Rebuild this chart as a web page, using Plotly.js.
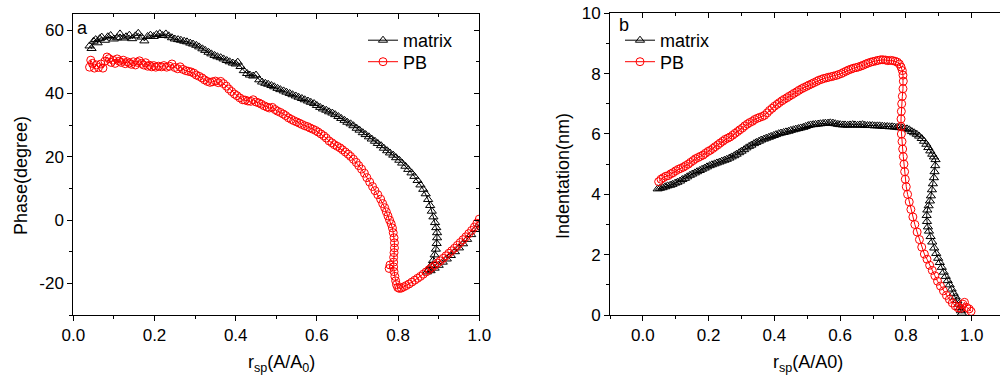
<!DOCTYPE html>
<html>
<head>
<meta charset="utf-8">
<script src="https://cdn.plot.ly/plotly-3.0.1.min.js"></script>
<style>
html,body{margin:0;padding:0;overflow:hidden;background:#fff;width:1000px;height:378px;}
#chart{width:1010px;height:378px;}
</style>
</head>
<body>
<div id="chart"></div>
<script>
// ---------- Panel a: Phase vs r_sp ----------
const phaseMatrixX = [0.040,0.045,0.050,0.055,0.060,0.065,0.070,0.078,0.085,0.092,0.100,0.108,0.115,0.123,0.130,0.138,0.145,0.153,0.160,0.168,0.175,0.183,0.190,0.198,0.205,0.213,0.220,0.228,0.235,0.243,0.250,0.258,0.265,0.273,0.280,0.288,0.295,0.303,0.310,0.318,0.325,0.333,0.340,0.348,0.355,0.363,0.370,0.378,0.385,0.393,0.400,0.405,0.412,0.420,0.428,0.435,0.443,0.450,0.458,0.465,0.473,0.480,0.488,0.495,0.503,0.510,0.518,0.525,0.533,0.540,0.548,0.555,0.563,0.570,0.578,0.585,0.593,0.600,0.608,0.615,0.623,0.630,0.638,0.645,0.653,0.660,0.668,0.675,0.683,0.690,0.698,0.705,0.713,0.720,0.728,0.735,0.743,0.750,0.758,0.765,0.773,0.780,0.788,0.795,0.803,0.810,0.818,0.825,0.833,0.840,0.848,0.855,0.862,0.868,0.874,0.879,0.883,0.887,0.891,0.894,0.896,0.896,0.895,0.893,0.890,0.886,0.881,0.876,0.871,0.880,0.890,0.900,0.910,0.920,0.930,0.940,0.950,0.960,0.970,0.980,0.990,1.000];
const phaseMatrixY = [55.0,54.2,56.5,57.0,56.0,57.3,57.8,56.8,57.9,58.3,57.2,57.6,58.8,57.5,57.9,58.4,57.3,58.2,59.0,57.8,56.6,58.0,58.4,58.0,58.6,58.9,58.3,58.8,58.2,57.6,57.2,57.0,56.8,56.5,56.3,55.9,55.6,55.2,54.7,54.1,53.6,53.0,52.5,52.0,51.6,51.3,50.9,50.4,50.0,49.6,49.3,49.9,48.5,47.2,46.3,45.8,45.5,45.8,44.3,43.6,43.2,42.9,42.5,42.1,41.6,41.2,40.8,40.4,40.0,39.6,39.2,38.8,38.4,38.0,37.6,37.2,36.8,36.2,35.6,35.1,34.7,34.2,33.8,33.3,32.7,32.1,31.5,30.9,30.4,29.8,29.0,28.4,27.6,27.0,26.3,25.6,24.9,24.2,23.5,22.7,21.9,21.2,20.5,19.7,18.9,18.0,17.0,16.0,14.9,13.8,12.5,11.1,9.7,8.3,6.5,4.6,2.8,1.0,-0.8,-2.4,-4.0,-5.6,-7.4,-9.2,-11.0,-12.8,-14.4,-15.6,-16.4,-16.0,-15.2,-14.3,-13.3,-12.3,-11.2,-10.0,-8.8,-7.5,-6.1,-4.6,-3.0,-1.3];

const phasePBX = [0.040,0.043,0.047,0.052,0.057,0.062,0.068,0.073,0.078,0.083,0.088,0.093,0.098,0.103,0.108,0.113,0.118,0.123,0.128,0.133,0.138,0.143,0.148,0.153,0.158,0.163,0.168,0.173,0.178,0.183,0.188,0.193,0.198,0.203,0.210,0.217,0.223,0.230,0.237,0.243,0.250,0.257,0.263,0.270,0.277,0.283,0.290,0.297,0.303,0.310,0.317,0.323,0.330,0.337,0.343,0.350,0.357,0.363,0.370,0.377,0.383,0.390,0.397,0.403,0.410,0.417,0.423,0.430,0.437,0.443,0.450,0.457,0.463,0.470,0.477,0.483,0.490,0.497,0.503,0.510,0.517,0.523,0.530,0.537,0.543,0.550,0.557,0.563,0.570,0.577,0.583,0.590,0.597,0.603,0.610,0.617,0.623,0.630,0.637,0.643,0.650,0.657,0.663,0.670,0.677,0.683,0.690,0.697,0.703,0.710,0.717,0.723,0.730,0.737,0.743,0.750,0.757,0.762,0.767,0.771,0.775,0.779,0.783,0.786,0.788,0.790,0.791,0.791,0.790,0.789,0.789,0.780,0.778,0.789,0.790,0.792,0.794,0.796,0.799,0.803,0.808,0.814,0.820,0.827,0.834,0.841,0.848,0.855,0.862,0.869,0.876,0.883,0.890,0.897,0.904,0.911,0.918,0.925,0.932,0.939,0.946,0.953,0.960,0.967,0.974,0.981,0.988,0.994,1.000];
const phasePBY = [48.3,50.5,49.5,48.0,49.0,48.2,49.3,48.0,50.2,51.5,51.0,49.8,50.5,49.5,50.9,50.2,49.8,50.5,49.4,50.0,49.6,49.2,50.0,49.0,49.8,50.3,49.5,49.0,49.7,48.6,48.9,48.4,48.8,48.3,48.6,48.4,48.8,48.3,48.6,49.3,48.2,47.8,48.4,47.6,47.2,47.0,46.8,46.4,45.8,45.4,44.9,44.3,43.8,43.5,43.7,43.9,43.4,43.8,43.1,42.3,41.4,40.6,39.8,39.3,38.6,38.0,37.9,37.6,37.5,38.0,37.3,37.0,36.6,36.1,35.7,35.4,35.6,34.9,34.4,34.0,33.5,33.0,32.3,31.8,31.4,31.0,30.6,30.2,29.8,29.5,29.1,28.7,28.3,27.8,27.2,26.6,25.9,25.0,24.4,23.8,23.3,22.8,22.2,21.5,20.8,20.1,19.2,18.2,17.2,16.1,14.8,13.4,12.0,10.6,9.3,8.0,6.6,5.2,3.9,2.6,1.3,0.0,-1.2,-2.5,-4.0,-5.6,-7.2,-8.8,-10.3,-11.8,-13.3,-14.2,-15.3,-14.8,-16.3,-17.8,-19.2,-20.4,-21.3,-21.6,-21.5,-21.1,-20.7,-20.2,-19.6,-19.0,-18.4,-17.8,-17.1,-16.4,-15.7,-15.0,-14.3,-13.6,-12.9,-12.1,-11.3,-10.5,-9.7,-8.9,-8.0,-7.1,-6.2,-5.3,-4.3,-3.3,-2.2,-1.0,0.3];

const phaseTickVals = [-20, 0, 20, 40, 60];
const phaseTickText = ['-20', '0', '20', '40', '60'];

// ---------- Panel b: Indentation vs r_sp ----------
const indMatrixX = [0.045,0.052,0.060,0.068,0.075,0.083,0.090,0.098,0.105,0.113,0.120,0.128,0.135,0.143,0.150,0.158,0.165,0.173,0.180,0.188,0.195,0.203,0.210,0.218,0.225,0.233,0.240,0.248,0.255,0.263,0.270,0.278,0.285,0.293,0.300,0.308,0.315,0.323,0.330,0.338,0.345,0.353,0.360,0.368,0.375,0.383,0.390,0.398,0.405,0.413,0.420,0.428,0.435,0.443,0.450,0.458,0.465,0.473,0.480,0.488,0.495,0.503,0.510,0.518,0.525,0.533,0.540,0.548,0.555,0.563,0.570,0.578,0.585,0.593,0.600,0.608,0.615,0.623,0.630,0.638,0.645,0.653,0.660,0.668,0.675,0.683,0.690,0.698,0.705,0.713,0.720,0.728,0.735,0.743,0.750,0.758,0.765,0.773,0.780,0.788,0.795,0.803,0.810,0.818,0.825,0.833,0.840,0.848,0.855,0.862,0.868,0.874,0.880,0.885,0.890,0.889,0.887,0.885,0.882,0.879,0.876,0.873,0.869,0.865,0.863,0.864,0.867,0.870,0.875,0.880,0.886,0.892,0.898,0.903,0.909,0.915,0.921,0.927,0.933,0.939,0.945,0.951,0.956,0.960,0.964,0.967,0.970];
const indMatrixY = [4.18,4.20,4.22,4.25,4.28,4.30,4.33,4.37,4.40,4.44,4.49,4.53,4.58,4.63,4.67,4.71,4.75,4.79,4.83,4.87,4.91,4.95,4.98,5.01,5.04,5.07,5.10,5.13,5.16,5.20,5.24,5.28,5.33,5.38,5.43,5.48,5.54,5.59,5.63,5.68,5.72,5.76,5.80,5.83,5.86,5.89,5.92,5.95,5.98,6.01,6.03,6.05,6.07,6.09,6.12,6.14,6.16,6.18,6.20,6.22,6.25,6.28,6.30,6.31,6.32,6.33,6.34,6.35,6.36,6.36,6.37,6.36,6.34,6.32,6.31,6.30,6.30,6.29,6.30,6.31,6.30,6.29,6.30,6.31,6.29,6.28,6.28,6.28,6.27,6.27,6.27,6.26,6.25,6.25,6.24,6.24,6.23,6.22,6.21,6.20,6.19,6.17,6.14,6.08,6.04,5.99,5.93,5.85,5.76,5.66,5.55,5.44,5.33,5.24,5.15,4.95,4.75,4.55,4.35,4.15,3.95,3.78,3.62,3.48,3.30,3.10,2.92,2.78,2.60,2.42,2.22,2.04,1.88,1.74,1.58,1.42,1.28,1.14,1.00,0.86,0.72,0.60,0.48,0.36,0.24,0.14,0.06];

const indPBX = [0.048,0.055,0.062,0.070,0.077,0.085,0.092,0.100,0.108,0.115,0.123,0.130,0.138,0.145,0.153,0.160,0.168,0.175,0.183,0.190,0.198,0.205,0.213,0.220,0.228,0.235,0.243,0.250,0.258,0.265,0.273,0.280,0.288,0.295,0.303,0.310,0.318,0.325,0.333,0.340,0.348,0.355,0.363,0.370,0.378,0.385,0.393,0.400,0.408,0.415,0.423,0.430,0.438,0.445,0.453,0.460,0.468,0.475,0.483,0.490,0.498,0.505,0.513,0.520,0.528,0.535,0.543,0.550,0.558,0.565,0.573,0.580,0.588,0.595,0.603,0.610,0.618,0.625,0.633,0.640,0.648,0.655,0.663,0.670,0.678,0.685,0.693,0.700,0.708,0.715,0.723,0.730,0.738,0.745,0.753,0.760,0.767,0.774,0.780,0.785,0.789,0.791,0.792,0.791,0.789,0.787,0.786,0.785,0.785,0.786,0.788,0.790,0.792,0.794,0.796,0.798,0.801,0.805,0.810,0.815,0.821,0.827,0.834,0.841,0.848,0.856,0.864,0.872,0.880,0.888,0.896,0.905,0.914,0.923,0.932,0.941,0.950,0.958,0.966,0.973,0.978,0.985,0.992,0.998];
const indPBY = [4.42,4.50,4.55,4.60,4.62,4.68,4.72,4.78,4.83,4.86,4.90,4.95,5.00,5.06,5.12,5.18,5.22,5.26,5.30,5.36,5.42,5.46,5.52,5.58,5.64,5.70,5.76,5.82,5.86,5.90,5.96,6.02,6.08,6.14,6.20,6.27,6.33,6.38,6.42,6.48,6.52,6.55,6.58,6.62,6.70,6.78,6.85,6.92,6.98,7.04,7.10,7.15,7.20,7.25,7.30,7.35,7.40,7.45,7.50,7.54,7.58,7.62,7.66,7.70,7.74,7.78,7.81,7.84,7.86,7.88,7.90,7.92,7.94,7.97,8.00,8.04,8.08,8.12,8.15,8.18,8.20,8.22,8.25,8.28,8.32,8.35,8.38,8.40,8.42,8.44,8.46,8.46,8.45,8.43,8.44,8.43,8.41,8.38,8.32,8.22,8.10,7.95,7.75,7.50,7.25,7.00,6.75,6.50,6.25,6.00,5.75,5.50,5.25,5.00,4.75,4.50,4.25,4.00,3.75,3.50,3.25,3.00,2.75,2.50,2.25,2.02,1.85,1.65,1.48,1.30,1.12,0.96,0.80,0.65,0.52,0.40,0.30,0.24,0.22,0.36,0.42,0.25,0.20,0.12];

const tickFont = {family: 'Liberation Sans, Arial, sans-serif', size: 17, color: '#000'};
const textFont = {family: 'Liberation Sans, Arial, sans-serif', size: 18, color: '#000'};
const W = 1010, H = 378;

function mk(x, y, name, color, symbol, xa, ya, leg) {
  return {x: x, y: y, name: name, xaxis: xa, yaxis: ya, legend: leg, showlegend: true,
    type: 'scatter', mode: 'lines+markers',
    line: {color: color, width: 1},
    marker: {symbol: symbol, size: 8, color: color, line: {color: color, width: 1}},
    hoverinfo: 'skip'};
}
const traces = [
  mk(phaseMatrixX, phaseMatrixY, 'matrix', '#000000', 'triangle-up-open', 'x', 'y', 'legend'),
  mk(phasePBX, phasePBY, 'PB', '#ff0000', 'circle-open', 'x', 'y', 'legend2'),
  mk(indMatrixX, indMatrixY, 'matrix', '#000000', 'triangle-up-open', 'x2', 'y2', 'legend3'),
  mk(indPBX, indPBY, 'PB', '#ff0000', 'circle-open', 'x2', 'y2', 'legend4'),
  {x: [], y: [], xaxis: 'x3', yaxis: 'y3', showlegend: false, hoverinfo: 'skip'},
  {x: [], y: [], xaxis: 'x4', yaxis: 'y4', showlegend: false, hoverinfo: 'skip'}
];

function mainAx(dom, range, dtick, mdtick, fmt, anchor) {
  return {domain: dom, range: range, anchor: anchor, tick0: 0, dtick: dtick,
    ticks: 'outside', ticklen: 5, tickwidth: 1, tickcolor: '#000',
    minor: {dtick: mdtick, ticks: 'outside', ticklen: 3, tickwidth: 1, tickcolor: '#000'},
    showline: true, linewidth: 1, linecolor: '#000', mirror: true,
    showgrid: false, zeroline: false, tickfont: tickFont, tickformat: fmt, fixedrange: true};
}
function mirAx(dom, range, dtick, mdtick, over, anchor, side) {
  return {domain: dom, range: range, overlaying: over, anchor: anchor, side: side,
    tick0: 0, dtick: dtick, ticks: 'inside', ticklen: 5, tickwidth: 1, tickcolor: '#000',
    minor: {dtick: mdtick, ticks: 'inside', ticklen: 3, tickwidth: 1, tickcolor: '#000'},
    showticklabels: false, showline: false, showgrid: false, zeroline: false, fixedrange: true};
}
function leg(xpx, ypx) {
  return {x: xpx / W, y: 1 - ypx / H, xanchor: 'left', yanchor: 'middle', visible: true,
    bgcolor: 'rgba(0,0,0,0)', borderwidth: 0, font: textFont, itemclick: false};
}

const xLdom = [73.3 / W, 479.3 / W];
const yLdom = [1 - 315 / H, 1 - 14.3 / H];
const xRdom = [610 / W, 1004.6 / W];
const yRdom = [1 - 315 / H, 1 - 13.3 / H];

const yLeft = mainAx(yLdom, [-30, 65], 20, 10, 'd', 'x');
yLeft.tickmode = 'array';
yLeft.tickvals = phaseTickVals;
yLeft.ticktext = phaseTickText;

const layout = {
  width: W, height: H,
  margin: {l: 0, r: 0, t: 0, b: 0},
  paper_bgcolor: '#fff', plot_bgcolor: '#fff',
  font: textFont,
  showlegend: true,
  xaxis: mainAx(xLdom, [0, 1], 0.2, 0.1, '.1f', 'y'),
  yaxis: yLeft,
  xaxis2: mainAx(xRdom, [-0.1, 1.1], 0.2, 0.1, '.1f', 'y2'),
  yaxis2: mainAx(yRdom, [0, 10], 2, 1, 'd', 'x2'),
  xaxis3: mirAx(xLdom, [0, 1], 0.2, 0.1, 'x', 'y', 'top'),
  yaxis3: mirAx(yLdom, [-30, 65], 20, 10, 'y', 'x', 'right'),
  xaxis4: mirAx(xRdom, [-0.1, 1.1], 0.2, 0.1, 'x2', 'y2', 'top'),
  yaxis4: mirAx(yRdom, [0, 10], 2, 1, 'y2', 'x2', 'right'),
  legend: leg(363, 40.5),
  legend2: leg(363, 62),
  legend3: leg(620, 40.5),
  legend4: leg(620, 62),
  annotations: [
    {text: 'Phase(degree)', textangle: -90, xref: 'paper', yref: 'paper', x: 21 / W, y: 1 - 176 / H,
      xanchor: 'center', yanchor: 'middle', showarrow: false, font: textFont},
    {text: 'Indentation(nm)', textangle: -90, xref: 'paper', yref: 'paper', x: 563 / W, y: 1 - 176 / H,
      xanchor: 'center', yanchor: 'middle', showarrow: false, font: textFont},
    {text: 'r<sub>sp</sub>(A/A<sub>0</sub>)', xref: 'paper', yref: 'paper', x: 281 / W, y: 1 - 363 / H,
      xanchor: 'center', yanchor: 'middle', showarrow: false, font: textFont},
    {text: 'r<sub>sp</sub>(A/A0)', xref: 'paper', yref: 'paper', x: 807.5 / W, y: 1 - 363 / H,
      xanchor: 'center', yanchor: 'middle', showarrow: false, font: textFont},
    {text: 'a', xref: 'paper', yref: 'paper', x: 82 / W, y: 1 - 28 / H,
      xanchor: 'center', yanchor: 'middle', showarrow: false, font: textFont},
    {text: 'b', xref: 'paper', yref: 'paper', x: 624 / W, y: 1 - 25 / H,
      xanchor: 'center', yanchor: 'middle', showarrow: false, font: textFont}
  ]
};

Plotly.newPlot('chart', traces, layout, {staticPlot: true, displayModeBar: false});
</script>
</body>
</html>
